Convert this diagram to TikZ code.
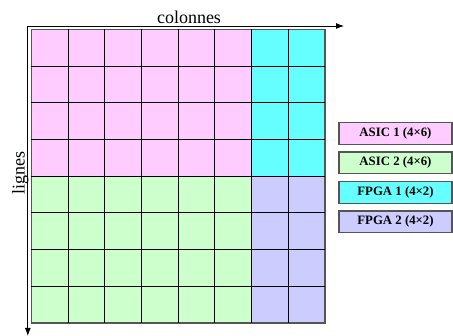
\documentclass[tikz,border=0pt]{standalone}
\usepackage{fontspec}
\setmainfont{Liberation Serif}
\usetikzlibrary{arrows.meta}
\definecolor{cpink}{HTML}{FFCCFF}
\definecolor{cgreen}{HTML}{CCFFCC}
\definecolor{ccyan}{HTML}{66FFFF}
\definecolor{clav}{HTML}{CCCCFF}
\definecolor{cborder}{HTML}{555555}
\tikzset{
  blockborder/.style={draw=cborder, line width=1.5pt},
  gridline/.style={draw=black, line width=0.9pt},
  axis/.style={draw=black, line width=0.9pt, -{Latex[length=8pt,width=6pt]}},
  axislabel/.style={font=\fontsize{18}{20}\selectfont, inner sep=0pt},
  legendbox/.style={draw=cborder, line width=1.2pt, minimum width=113pt, minimum height=21.5pt, inner sep=0pt, font=\bfseries\fontsize{12.8}{14}\selectfont},
}
\begin{document}
\begin{tikzpicture}[x=1pt,y=-1pt]
\useasboundingbox (0,0) rectangle (453,336);
\def\xa{31.3}\def\ya{29.3}\def\cw{36.7}
% blocks
\fill[cpink]  (\xa,\ya) rectangle ({\xa+6*\cw},{\ya+4*\cw});
\fill[ccyan]  ({\xa+6*\cw},\ya) rectangle ({\xa+8*\cw},{\ya+4*\cw});
\fill[cgreen] (\xa,{\ya+4*\cw}) rectangle ({\xa+6*\cw},{\ya+8*\cw});
\fill[clav]   ({\xa+6*\cw},{\ya+4*\cw}) rectangle ({\xa+8*\cw},{\ya+8*\cw});
\draw[blockborder] (\xa,\ya) rectangle ({\xa+8*\cw},{\ya+8*\cw});
\foreach \i in {1,...,7} {
  \draw[gridline] ({\xa+\i*\cw},\ya) -- ({\xa+\i*\cw},{\ya+8*\cw});
  \draw[gridline] (\xa,{\ya+\i*\cw}) -- ({\xa+8*\cw},{\ya+\i*\cw});
}
% axes
\coordinate (o) at (27.8,26);
\coordinate (xend) at (344,26);
\coordinate (yend) at (27.8,336);
\draw[axis] (o) -- (xend);
\draw[axis] (o) -- (yend);
\node[axislabel, anchor=base] (colonnes) at (189,24) {colonnes};
\node[axislabel, rotate=90, anchor=base] (lignes) at (24.5,173) {lignes};
% legend
\node[legendbox, fill=cpink]  (l1) at (395.5,133.5) {ASIC 1 (4×6)};
\node[legendbox, fill=cgreen] (l2) at (395.5,162.8) {ASIC 2 (4×6)};
\node[legendbox, fill=ccyan]  (l3) at (395.5,192.5) {FPGA 1 (4×2)};
\node[legendbox, fill=clav]   (l4) at (395.5,221.7) {FPGA 2 (4×2)};
\end{tikzpicture}
\end{document}
